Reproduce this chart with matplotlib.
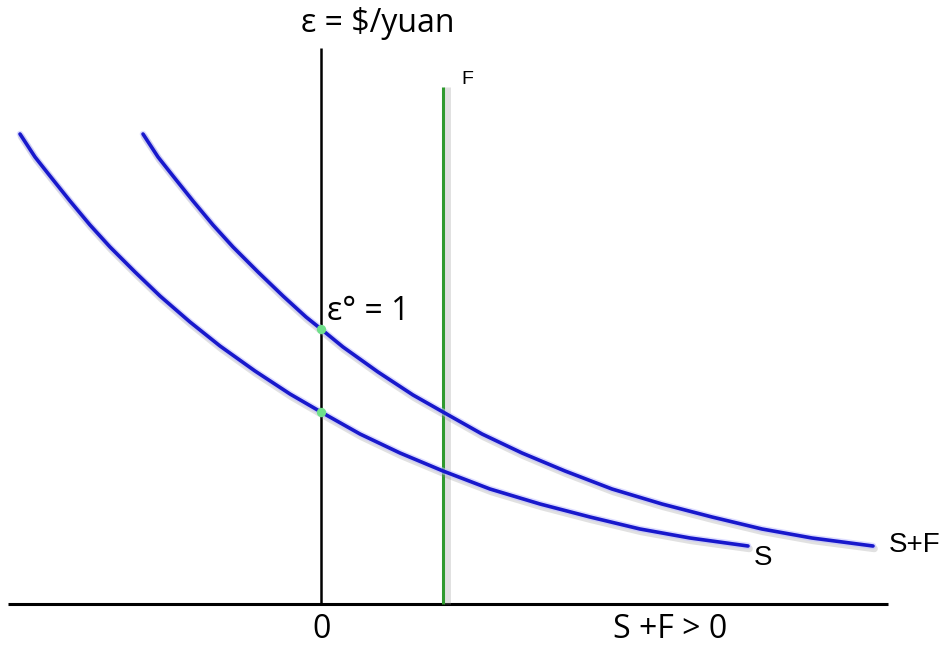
import matplotlib
matplotlib.use("Agg")
from matplotlib import pyplot as plt
import matplotlib.patheffects as pe

# curves (x: 0 at the vertical axis, y: 0 at the horizontal axis)
s_x = [-301, -286, -271, -251, -231, -211, -186, -161, -131, -101, -66, -31, 0,
       39, 79, 122, 169, 219, 269, 319, 369, 427]
s_y = [470, 447, 428, 403, 379, 357, 332, 308, 282, 258, 233, 210, 192,
       170, 151, 133, 115, 100, 87, 75, 66, 58]
sf_x = [-178, -163, -148, -128, -108, -88, -63, -38, -15, 0, 22, 57, 92,
        122, 161, 201, 244, 291, 341, 391, 441, 491, 552]
sf_y = [470, 447, 428, 403, 379, 357, 332, 308, 287, 275, 257, 232, 209,
        192, 170, 151, 133, 115, 100, 87, 75, 66, 58]

f_level = 122          # position of the vertical F line
eq_x = [0, 0]          # equilibrium points on the vertical axis
eq_y = [275, 192]

blue = "#1818cc"
green = "#2f9a2f"

fig = plt.figure(figsize=(9.45, 6.46), dpi=100)
ax = fig.add_axes([0, 0, 1, 1])
ax.set_xlim(-321, 624)
ax.set_ylim(-42, 604)
ax.axis("off")

# axes
ax.plot([-313, 567], [0, 0], color="black", lw=2.2, solid_capstyle="butt")
ax.plot([0, 0], [0, 556], color="black", lw=1.8, solid_capstyle="butt")

# F line with soft shadow on the right
ax.plot([f_level, f_level], [0, 517], color=green, lw=2.2, solid_capstyle="butt",
        path_effects=[pe.SimpleLineShadow(offset=(3, 0), shadow_color="#999999", alpha=0.3, linewidth=5),
                      pe.Normal()])

glow = [pe.SimpleLineShadow(offset=(1, -2), shadow_color="#888888", alpha=0.25, linewidth=5),
        pe.Stroke(linewidth=4.8, foreground="#c0c0ff", alpha=0.55),
        pe.Normal()]
ax.plot(s_x, s_y, color=blue, lw=2.6, solid_capstyle="round", solid_joinstyle="round", path_effects=glow)
ax.plot(sf_x, sf_y, color=blue, lw=2.6, solid_capstyle="round", solid_joinstyle="round", path_effects=glow)

ax.scatter(eq_x, eq_y, s=45, color="#6fe08a", zorder=5, linewidths=0)

font = "Open Sans"
ax.text(57, 581, "\u03b5 = $/yuan", fontsize=23, family=font, ha="center", va="center")
ax.text(140, 524, "F", fontsize=14, family="Liberation Sans", ha="left", va="center")
ax.text(6, 292, "\u03b5\u00b0 = 1", fontsize=23, family=font, ha="left", va="center")
ax.text(442, 46, "S", fontsize=20, family="Liberation Sans", ha="center", va="center")
ax.text(594, 59, "S+F", fontsize=20, family="Liberation Sans", ha="center", va="center")
ax.text(1, -26, "0", fontsize=23, family=font, ha="center", va="center")
ax.text(349, -26, "S +F > 0", fontsize=23, family=font, ha="center", va="center")

fig.savefig("out.png", dpi=100)
